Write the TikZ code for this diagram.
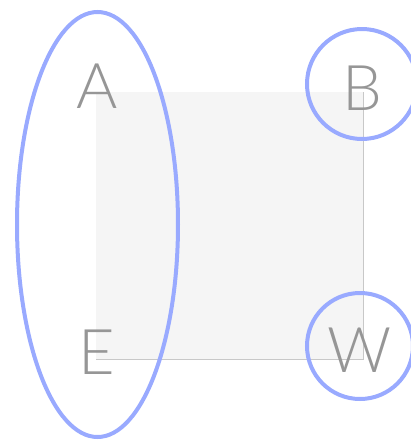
\documentclass[tikz,border=0pt]{standalone}
\usepackage{fontspec}
\newfontfamily\lightsans{Lato Light}
\definecolor{ringblue}{RGB}{153,170,255}
\definecolor{labelgray}{RGB}{150,150,150}
\definecolor{panelfill}{RGB}{245,245,245}
\definecolor{panelline}{RGB}{200,200,200}
\begin{document}
\begin{tikzpicture}[x=1pt,y=-1pt,
  letter/.style={text=labelgray,font=\lightsans\fontsize{63}{63}\selectfont,inner sep=0pt},
  ring/.style={draw=ringblue,line width=4pt},
  edge/.style={draw=panelline,line width=1pt}]
\useasboundingbox (0,0) rectangle (411,440);
% shaded panel with right and bottom edges
\fill[panelfill] (96,92) rectangle (363,359);
\coordinate (tr) at (363,92);
\coordinate (br) at (363,359);
\coordinate (bl) at (96,359);
\draw[edge] (tr) -- (br) -- (bl);
% corner labels
\node[letter] (A) at (97,86) {A};
\node[letter] (B) at (362,88) {B};
\node[letter] (E) at (97,352) {E};
\node[letter] (W) at (360,350) {W};
% rings around the labels
\draw[ring] (97.5,224.5) ellipse [x radius=80.5,y radius=212.5];
\draw[ring] (362,84) circle [radius=55];
\draw[ring] (360,346) circle [radius=53];
\end{tikzpicture}
\end{document}
